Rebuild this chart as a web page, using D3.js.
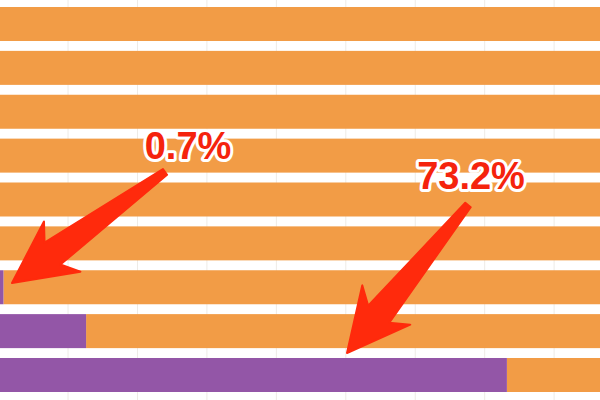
<!DOCTYPE html>
<html>
<head>
<meta charset="utf-8">
<script src="https://cdn.jsdelivr.net/npm/d3@7"></script>
<style>
  html, body { margin: 0; padding: 0; background: #ffffff; }
  svg { display: block; }
</style>
</head>
<body>
<svg id="chart" width="600" height="400"></svg>
<script>
// ---- data ----
const rows = ["r1", "r2", "r3", "r4", "r5", "r6", "r7", "r8", "r9"];
const purpleShare = [0, 0, 0, 0, 0, 0, 0.7, 12.6, 73.2];
const labels = ["0.7%", "73.2%"];
const labelRows = ["r7", "r9"];
const gridTicks = [10, 20, 30, 40, 50, 60, 70, 80, 90];

// ---- layout ----
const W = 600, H = 400;
const orange = "#f29c46";
const purple = "#9356a7";
const red = "#f5230d";

const svg = d3.select("#chart");
svg.append("rect").attr("width", W).attr("height", H).attr("fill", "#ffffff");

const x = d3.scaleLinear().domain([0, 100]).range([-1.4, 693]);
const y = d3.scaleBand().domain(rows).range([7, 392]).paddingInner(0.225).paddingOuter(0);

// faint gridlines
svg.append("g").selectAll("line").data(gridTicks).join("line")
  .attr("x1", d => x(d)).attr("x2", d => x(d))
  .attr("y1", 0).attr("y2", H)
  .attr("stroke", "#eeebe6").attr("stroke-width", 1);

const data = rows.map((r, i) => ({ row: r, v: purpleShare[i] }));

// orange remainder
svg.append("g").selectAll("rect").data(data).join("rect")
  .attr("x", d => x(d.v))
  .attr("y", d => y(d.row))
  .attr("width", d => x(100) - x(d.v))
  .attr("height", y.bandwidth())
  .attr("fill", orange);

// purple share
svg.append("g").selectAll("rect").data(data.filter(d => d.v > 0)).join("rect")
  .attr("x", x(0))
  .attr("y", d => y(d.row))
  .attr("width", d => x(d.v) - x(0))
  .attr("height", y.bandwidth())
  .attr("fill", purple);

// ---- annotations ----
function arrowPath(tail, tip) {
  const dx = tip[0] - tail[0], dy = tip[1] - tail[1];
  const L = Math.hypot(dx, dy);
  const u = [dx / L, dy / L];
  const n = [-u[1], u[0]];
  const tw = 7, sw = 27, hw = 62, hl = 62, hb = 50;
  const P = (base, along, side) => [base[0] + u[0] * along + n[0] * side, base[1] + u[1] * along + n[1] * side];
  const pts = [
    P(tail, 0, tw / 2),
    P(tip, -hb, sw / 2),
    P(tip, -hl, hw / 2),
    tip,
    P(tip, -hl, -hw / 2),
    P(tip, -hb, -sw / 2),
    P(tail, 0, -tw / 2)
  ];
  return "M" + pts.map(p => p.join(",")).join("L") + "Z";
}

const annos = [
  { text: labels[0], row: labelRows[0], tx: 188, ty: 159, tail: [165, 172], tip: [12, 283] },
  { text: labels[1], row: labelRows[1], tx: 471, ty: 189, tail: [468, 205], tip: [347, 353] }
];

const ag = svg.append("g");
ag.selectAll("path").data(annos).join("path")
  .attr("d", d => arrowPath(d.tail, d.tip))
  .attr("fill", "#ff2a0c")
  .attr("stroke", "#ff2a0c")
  .attr("stroke-width", 2)
  .attr("stroke-linejoin", "round");

ag.selectAll("text").data(annos).join("text")
  .attr("x", d => d.tx)
  .attr("y", d => d.ty)
  .attr("text-anchor", "middle")
  .attr("font-family", "'Liberation Sans', Arial, sans-serif")
  .attr("font-weight", "bold")
  .attr("font-size", 38)
  .attr("fill", red)
  .attr("stroke", "#ffffff")
  .attr("stroke-width", 6)
  .attr("stroke-linejoin", "round")
  .attr("paint-order", "stroke")
  .text(d => d.text);
</script>
</body>
</html>
